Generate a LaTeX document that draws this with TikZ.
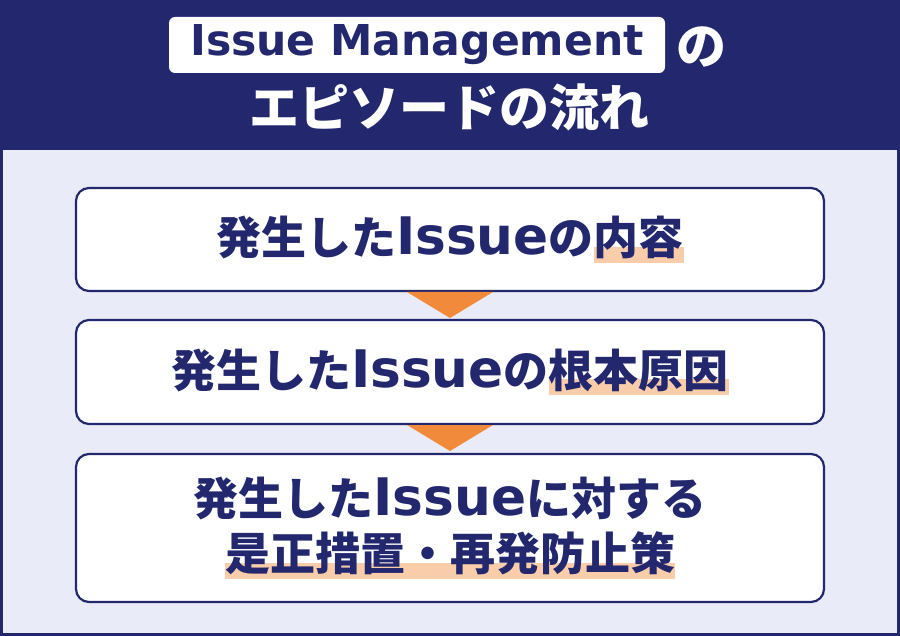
\documentclass[tikz,border=0pt]{standalone}
\usepackage{fontspec}
\setmainfont{Noto Sans CJK JP}
\newfontfamily\latinfont{DejaVu Sans}[Scale=1.15]
\usepackage{xcolor}
\usetikzlibrary{positioning, calc}

\definecolor{azul}{RGB}{35,40,110}
\definecolor{panel}{RGB}{234,235,248}
\definecolor{flecha}{RGB}{242,138,59}
\definecolor{resalte}{RGB}{249,205,170}

% texto latino dentro de las frases japonesas
\newcommand{\engl}[1]{{\latinfont #1}}
% subrayado ancho (marcador) detras del texto
\newcommand{\marca}[1]{\setbox0\hbox{#1}\rlap{\textcolor{resalte}{\rule[-0.18em]{\wd0}{0.36em}}}\box0}

\begin{document}
\begin{tikzpicture}[
    x=1pt, y=-1pt,
    % Estilo base para las cajas del flujo
    stepbox/.style={
        rectangle,
        rounded corners=13pt,
        draw=azul,
        line width=2.2pt,
        fill=white,
        text=azul,
        minimum width=748pt,
        align=center,
        font=\fontsize{45}{55}\selectfont\bfseries,
        outer sep=0pt
    },
    % Estilo para el titulo blanco
    titletext/.style={
        text=white,
        inner sep=0pt,
        outer sep=0pt,
        font=\fontsize{50}{60}\selectfont\bfseries
    }
]
    \useasboundingbox (0,0) rectangle (900,636);

    % --- FONDO ---
    \fill[azul] (0,0) rectangle (900,636);
    \fill[panel] (3,150) rectangle (897,633);

    % --- TÍTULO ---
    \node[rectangle, rounded corners=6pt, fill=white, text=azul,
          minimum width=496pt, minimum height=56pt, inner sep=0pt, outer sep=0pt,
          font=\fontsize{37}{44}\selectfont\bfseries] (titlebox) at (417,45) {\engl{Issue Management}};
    \node[titletext, right=11.5pt of titlebox, yshift=-2.5pt] (titleno) {の};
    \node[titletext] (subtitle) at (449,107.5) {エピソードの流れ};

    % --- CAJAS ---

    % 1. Contenido
    \node[stepbox, minimum height=103pt] (content) at (450,239.5) {発生した\engl{Issue}の\marca{内容}};

    % 2. Causa raiz - debajo del primero
    \node[stepbox, minimum height=104pt, below=29pt of content] (cause) {発生した\engl{Issue}の\marca{根本原因}};

    % 3. Medidas - debajo del segundo
    \node[stepbox, minimum height=148pt, below=30pt of cause] (measure) {発生した\engl{Issue}に対する\\\marca{是正措置・再発防止策}};

    % --- FLECHAS (triangulos naranjas) ---
    \fill[flecha] ($(content.south)+(-43,1)$) -- ($(content.south)+(43,1)$) -- ($(content.south)+(0,27)$) -- cycle;
    \fill[flecha] ($(cause.south)+(-43,1)$) -- ($(cause.south)+(43,1)$) -- ($(cause.south)+(0,27)$) -- cycle;

\end{tikzpicture}
\end{document}
